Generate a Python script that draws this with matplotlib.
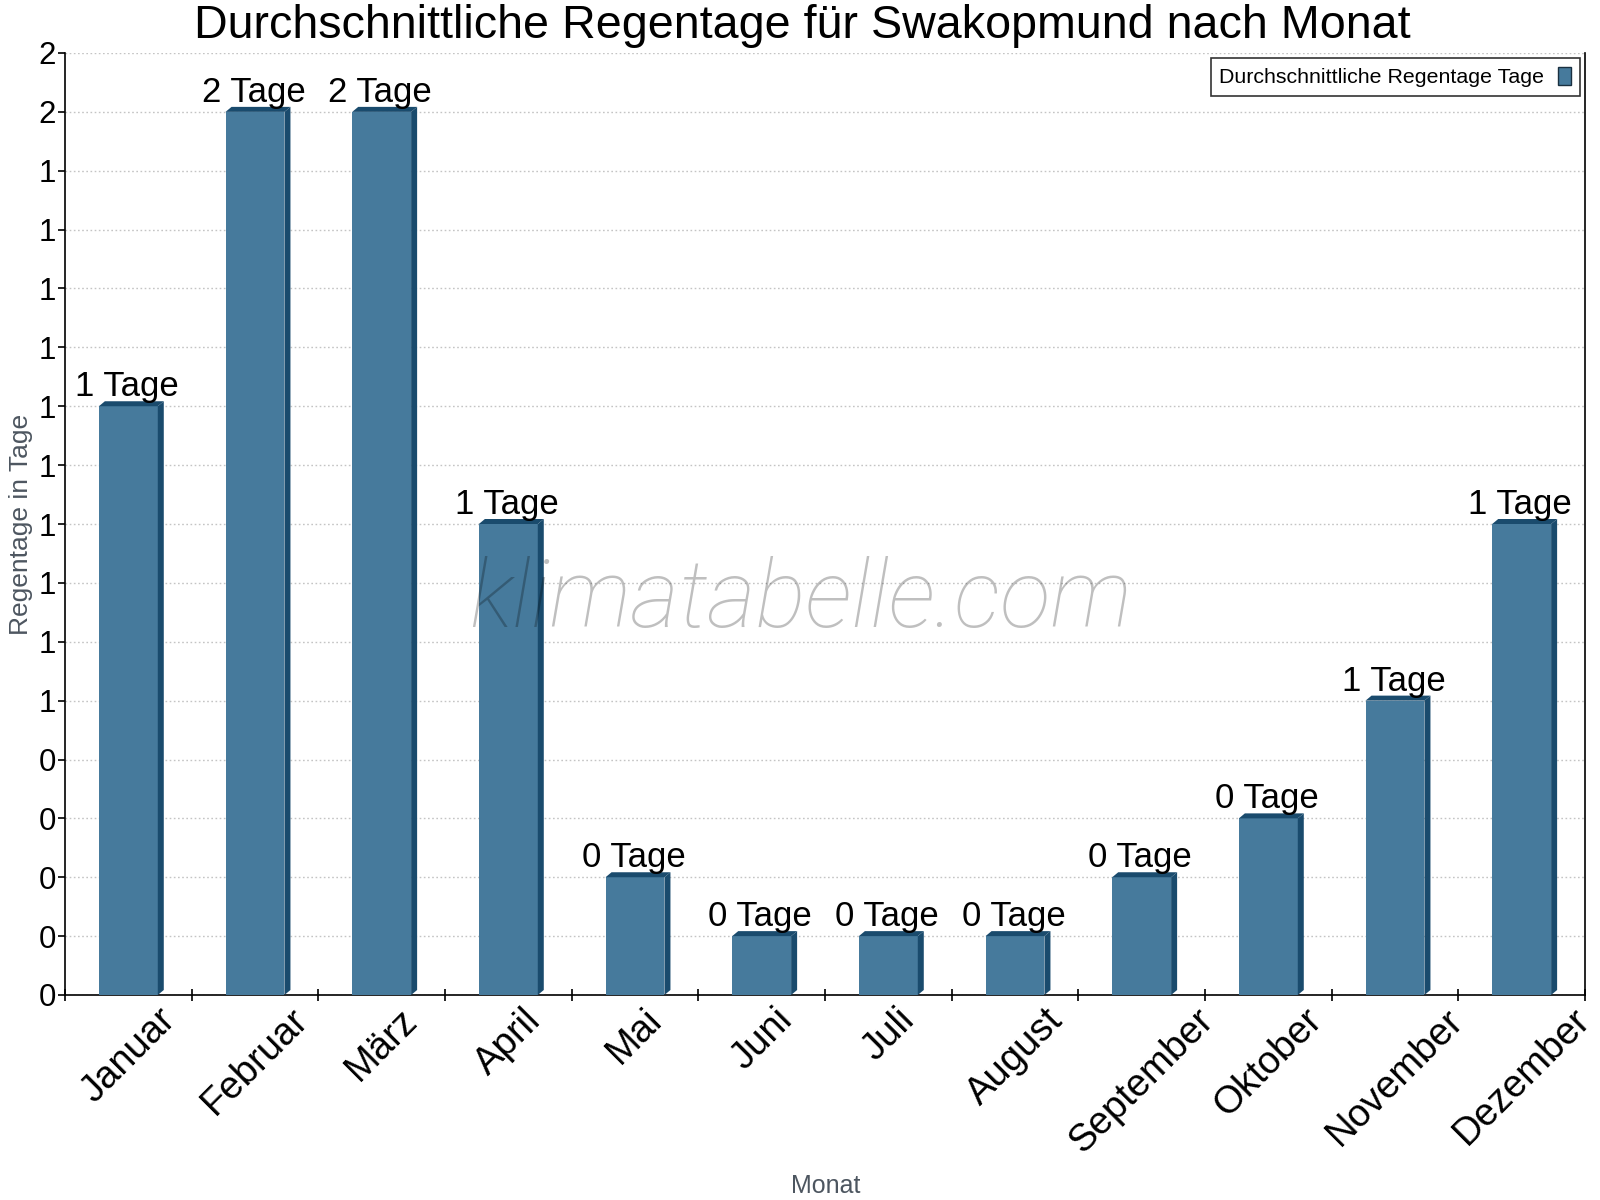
"""Durchschnittliche Regentage für Swakopmund nach Monat -- 3D-style bar chart."""

import math

import numpy as np
import matplotlib
matplotlib.use("Agg")
import matplotlib.pyplot as plt
from matplotlib.patches import Polygon, Patch
from matplotlib.ticker import FuncFormatter, FixedLocator

MONTHS = ["Januar", "Februar", "März", "April", "Mai", "Juni", "Juli",
          "August", "September", "Oktober", "November", "Dezember"]
RAIN_DAYS = [1.0, 1.5, 1.5, 0.8, 0.2, 0.1, 0.1, 0.1, 0.2, 0.3, 0.5, 0.8]
Y_MAX = 1.6
Y_STEP = 0.1

TITLE = "Durchschnittliche Regentage für Swakopmund nach Monat"
LEGEND_LABEL = "Durchschnittliche Regentage Tage"
UNIT = "Tage"

FRONT = "#467a9c"
DARK = "#1a4b6d"
FONT = ["Liberation Sans", "DejaVu Sans"]


def _round_half_up(v: float) -> int:
    return int(math.floor(v + 0.5 + 1e-9))


def main() -> None:
    plt.rcParams["font.family"] = FONT
    fig = plt.figure(figsize=(16, 12), dpi=100)
    ax = fig.add_axes([65 / 1600, 205 / 1200, 1520 / 1600, 942 / 1200])

    x = np.arange(len(MONTHS))
    width = 0.465
    ax.set_xlim(-0.5, len(MONTHS) - 0.5)
    ax.set_ylim(0, Y_MAX)

    ax.bar(x, RAIN_DAYS, width=width, color=FRONT, zorder=3)

    # depth of the fake 3D faces, in pixels -> data units
    px_x = (len(MONTHS)) / 1520.0
    px_y = Y_MAX / 942.0
    dx, dy = 6 * px_x, 5 * px_y
    for xi, h in zip(x, RAIN_DAYS):
        xl, xr = xi - width / 2, xi + width / 2
        side = Polygon([(xr, 0), (xr + dx, dy), (xr + dx, h + dy), (xr, h)],
                       closed=True, facecolor=DARK, edgecolor="none", zorder=3)
        top = Polygon([(xl, h), (xl + dx, h + dy), (xr + dx, h + dy), (xr, h)],
                      closed=True, facecolor=DARK, edgecolor="none", zorder=3)
        ax.add_patch(side)
        ax.add_patch(top)
        ax.annotate(f"{_round_half_up(h)} {UNIT}", (xi - 1.5 * px_x, h),
                    xytext=(0, 7.2), textcoords="offset points",
                    ha="center", va="baseline", fontsize=25, zorder=5)

    # axes, ticks, grid
    ax.yaxis.set_major_locator(FixedLocator(np.arange(0, Y_MAX + 1e-6, Y_STEP)))
    ax.yaxis.set_major_formatter(FuncFormatter(lambda v, _: str(_round_half_up(v))))
    ax.tick_params(axis="y", direction="out", length=5, width=1.2,
                   labelsize=22.5, pad=1.5)
    ax.grid(axis="y", color="#c4c4c4", linestyle=(0, (1.2, 1.8)), linewidth=1)
    ax.set_axisbelow(True)

    ax.set_xticks(x)
    ax.set_xticklabels(MONTHS, rotation=45, ha="center", va="top", fontsize=27.5)
    ax.tick_params(axis="x", which="major", length=0, pad=5)
    ax.set_xticks(np.arange(-0.5, len(MONTHS), 1.0), minor=True)
    ax.tick_params(axis="x", which="minor", direction="inout", length=8, width=1.2)

    ax.spines["top"].set_visible(False)
    for s in ("left", "bottom", "right"):
        ax.spines[s].set_linewidth(1.2)

    ax.set_ylabel("Regentage in Tage", fontsize=19, color="#4d5660")
    ax.yaxis.set_label_coords((33 - 65) / 1520, 0.5)
    fig.text(826 / 1600, 1 - 1193 / 1200, "Monat", fontsize=18, color="#4d5660",
             ha="center", va="baseline")

    fig.text(0.5012, 1 - 38 / 1200, TITLE, fontsize=33.6, ha="center", va="baseline")

    # watermark
    fig.text(801 / 1600, 1 - 627 / 1200, "klimatabelle.com", fontsize=67.5,
             family=["Roboto", "DejaVu Sans"], fontweight="light", style="italic",
             color="black", alpha=0.25, ha="center", va="baseline", zorder=10)

    handle = Patch(facecolor=FRONT, edgecolor="#1a3040", linewidth=1)
    leg = ax.legend([handle], [LEGEND_LABEL], loc="upper right", markerfirst=False,
                    fontsize=15.4, frameon=True, fancybox=False,
                    handlelength=0.6, handleheight=0.95, handletextpad=0.65,
                    borderpad=0.4, borderaxespad=0.25)
    leg.get_frame().set_edgecolor("black")
    leg.get_frame().set_linewidth(1.2)
    leg.set_zorder(6)

    fig.savefig("out.png", dpi=100)
    plt.close(fig)


if __name__ == "__main__":
    main()
